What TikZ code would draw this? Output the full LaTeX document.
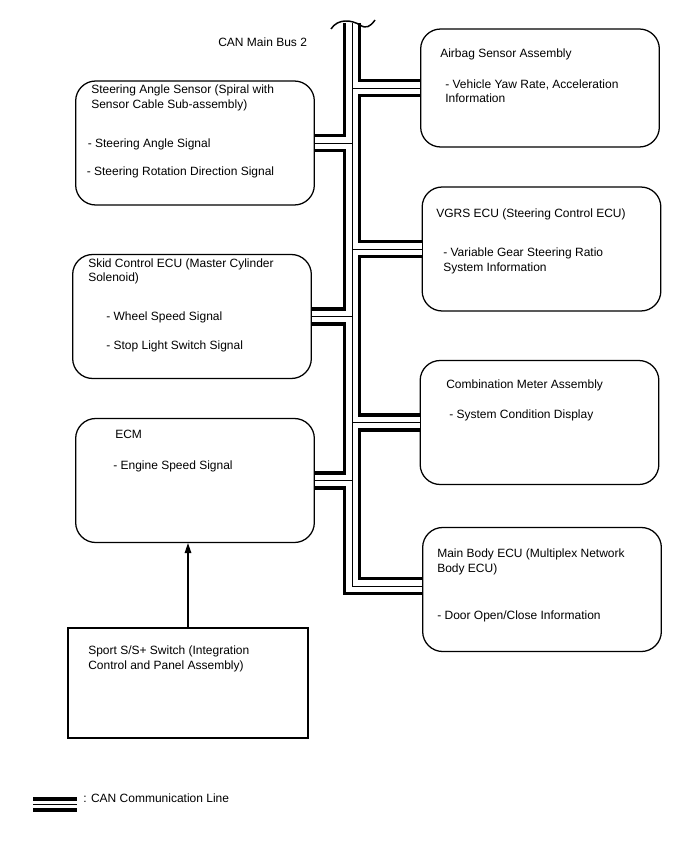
\documentclass[tikz,border=0pt]{standalone}
\usepackage{fontspec}
\setmainfont{Liberation Sans}
\usetikzlibrary{arrows.meta,positioning}

\begin{document}
\begin{tikzpicture}[
    x=0.75pt, y=-0.75pt,
    ecu/.style={rectangle, rounded corners=15pt, draw=black, line width=0.95pt,
                minimum width=179pt, minimum height=93pt, inner sep=0pt},
    swbox/.style={rectangle, draw=black, line width=0.95pt,
                minimum width=180pt, minimum height=82.5pt, inner sep=0pt},
    txt/.style={anchor=north west, inner sep=0pt, align=left,
                font=\fontsize{9pt}{10.9pt}\selectfont},
    canline/.style={line width=13.8pt,
                postaction={draw, white, line width=8.6pt},
                postaction={draw, black, line width=0.7pt}},
    canlegend/.style={line width=11.5pt,
                postaction={draw, white, line width=5.5pt},
                postaction={draw, black, line width=0.7pt}},
    arr/.style={-{Triangle[length=7.5pt, width=5pt]}, line width=0.8pt}
]
\useasboundingbox (0,0) rectangle (688,852);

\node[ecu, minimum height=88.5pt] (airbag) at (540,88) {};
\node[ecu] (vgrs) at (541.5,249) {};
\node[ecu] (meter) at (539.5,422.5) {};
\node[ecu] (body) at (542,589.5) {};

\node[ecu] (steer) at (195,143) {};
\node[ecu] (skid) at (192,316.5) {};
\node[ecu] (ecm) at (195,480.5) {};
\node[swbox] (sport) at (188,683) {};

\coordinate (bustop) at (352,23);
\coordinate (buscorner) at (352,586);

\draw[canline] (bustop) -- (buscorner) -- (buscorner -| body.west)
    (airbag.west) -- (airbag.west -| bustop)
    (vgrs.west) -- (vgrs.west -| bustop)
    (meter.west) -- (meter.west -| bustop)
    (steer.east) -- (steer.east -| bustop)
    (skid.east) -- (skid.east -| bustop)
    (ecm.east) -- (ecm.east -| bustop);

\draw[line width=1.1pt] (331,29) .. controls (338,18) and (352,20) .. (360,25)
    .. controls (366,29) and (370,27) .. (375,20);

\draw[arr] (sport.north) -- (sport.north |- ecm.south);

\node[txt] (buslabel) at (218,38) {CAN Main Bus 2};

\node[txt] (airbagtitle) at (440,48.5) {Airbag Sensor Assembly};
\node[txt] (airbagsig) at (445,79.5) {- Vehicle Yaw Rate, Acceleration\\Information};

\node[txt] (steertitle) at (91,85) {Steering Angle Sensor (Spiral with\\Sensor Cable Sub-assembly)};
\node[txt] (steersiga) at (87.5,139) {- Steering Angle Signal};
\node[txt] (steersigb) at (86.5,167) {- Steering Rotation Direction Signal};

\node[txt] (vgrstitle) at (436,208.5) {VGRS ECU (Steering Control ECU)};
\node[txt] (vgrssig) at (443,248) {- Variable Gear Steering Ratio\\System Information};

\node[txt] (skidtitle) at (88,258.5) {Skid Control ECU (Master Cylinder\\Solenoid)};
\node[txt] (skidsiga) at (106,311.5) {- Wheel Speed Signal};
\node[txt] (skidsigb) at (106,340.5) {- Stop Light Switch Signal};

\node[txt] (metertitle) at (446,379.5) {Combination Meter Assembly};
\node[txt] (metersig) at (449,409.5) {- System Condition Display};

\node[txt] (ecmtitle) at (115,429.5) {ECM};
\node[txt] (ecmsig) at (113,460.5) {- Engine Speed Signal};

\node[txt] (bodytitle) at (437,548.5) {Main Body ECU (Multiplex Network\\Body ECU)};
\node[txt] (bodysig) at (437,610.5) {- Door Open/Close Information};

\node[txt] (sporttitle) at (88,645.5) {Sport S/S+ Switch (Integration\\Control and Panel Assembly)};

\coordinate (legl) at (33,804.5);
\coordinate (legr) at (77,804.5);
\draw[canlegend] (legl) -- (legr);
\node[txt] (legtext) at (83,793.5) {: CAN Communication Line};

\end{tikzpicture}
\end{document}
